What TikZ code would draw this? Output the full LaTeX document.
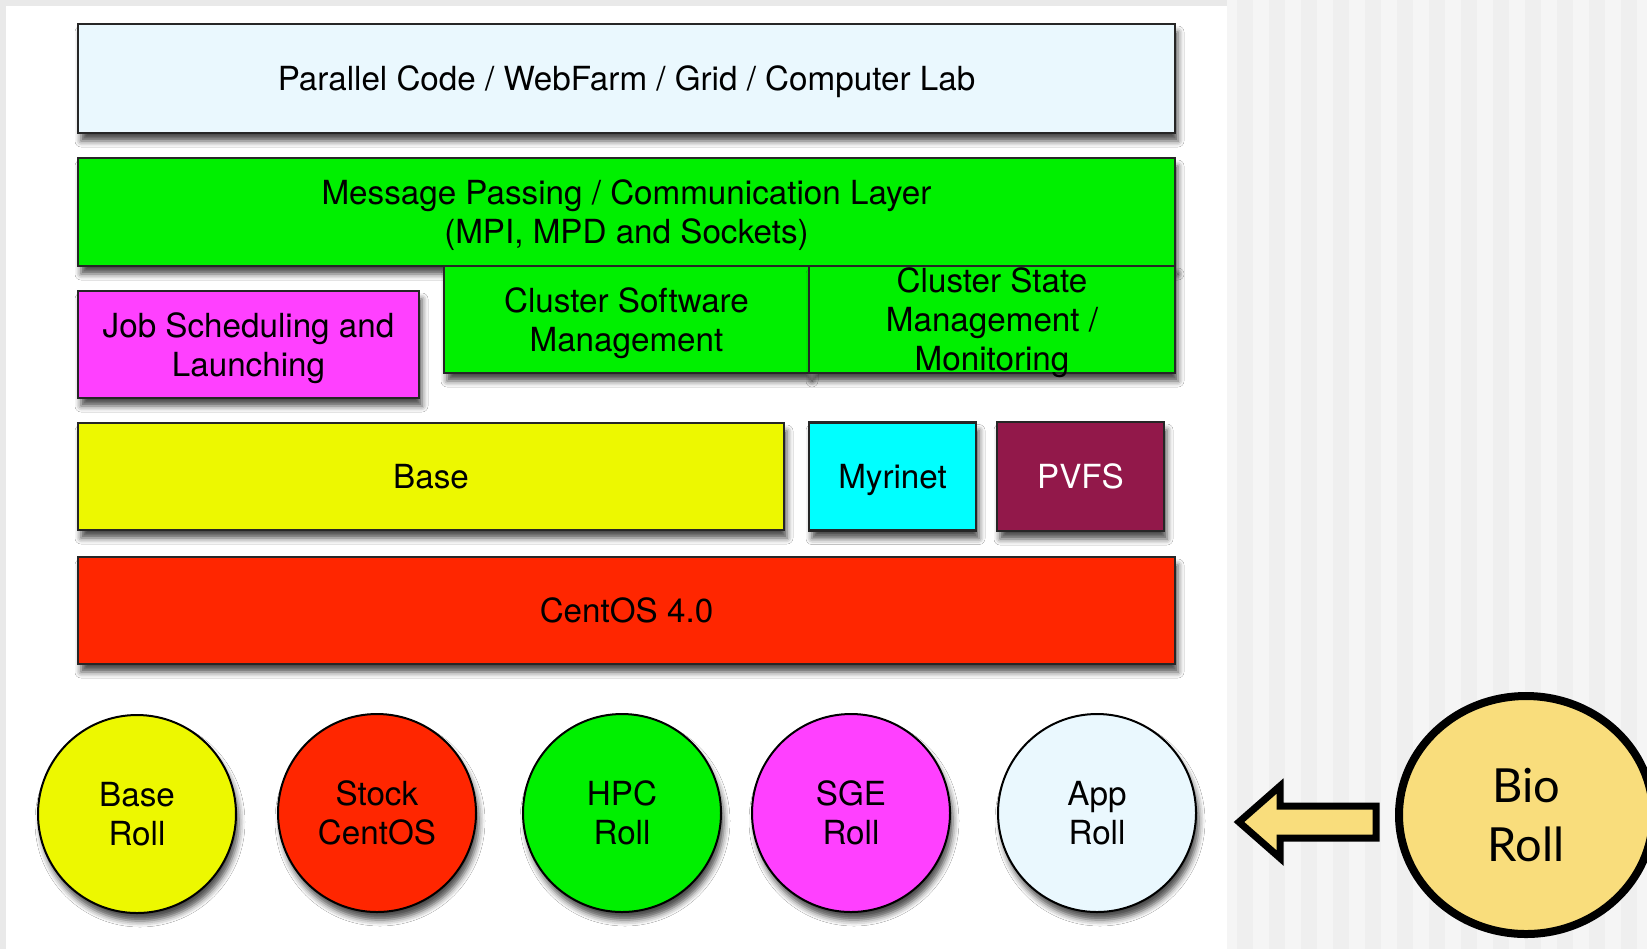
\documentclass[tikz,border=0pt]{standalone}
\usepackage{fontspec}
\setmainfont{TeX Gyre Heros}
\newfontfamily\rollfont{Lato}
\usetikzlibrary{positioning,shapes.geometric,shadows.blur}
\definecolor{skyLayer}{HTML}{EAF8FE}
\definecolor{grnLayer}{HTML}{00F000}
\definecolor{magLayer}{HTML}{FF40FF}
\definecolor{yelLayer}{HTML}{EDF800}
\definecolor{cyanLayer}{HTML}{00FFFF}
\definecolor{pvfsLayer}{HTML}{92184A}
\definecolor{redLayer}{HTML}{FF2600}
\definecolor{bioGold}{HTML}{F9DD7C}
\definecolor{paneGray}{HTML}{E9E9E9}
\definecolor{stripeLight}{HTML}{F5F5F5}
\definecolor{stripeDark}{HTML}{EFEFEF}
\newcommand{\layerfont}{\fontsize{16.6}{19.5}\selectfont}
\tikzset{
  softshadow/.style={blur shadow={shadow xshift=1.5pt, shadow yshift=-4pt, shadow blur radius=3pt, shadow opacity=70}},
  layer/.style={rectangle, draw=black!85, line width=1.3pt, outer sep=0pt, inner sep=2pt,
    align=center, font=\layerfont, text depth=0pt, softshadow},
  roll/.style={circle, draw=black, line width=1pt, minimum size=99pt, inner sep=0pt,
    align=center, font=\layerfont, text depth=0pt, softshadow},
  bioroll/.style={ellipse, draw=black, line width=4pt, minimum width=127pt, minimum height=119pt, inner sep=0pt,
    align=center, fill=bioGold, font=\rollfont\fontsize{23.5}{29.5}\selectfont}
}

\begin{document}
\begin{tikzpicture}[x=0.5pt,y=-0.5pt]
%% page background
\useasboundingbox (0,0) rectangle (1647,949);
\fill[paneGray] (0,0) rectangle (1647,949);
\fill[white] (6,6) rectangle (1227,949);
\fill[stripeLight] (1227,0) rectangle (1647,949);
\foreach \sx in {1237,1269,...,1640}
  \fill[stripeDark] (\sx,0) rectangle ++(16,949);
%the layers
\node [layer, fill=skyLayer, minimum width=548.5pt, minimum height=54.5pt] (parallelCode) at (626.5,78.5) {Parallel Code / WebFarm / Grid / Computer Lab};
\node [layer, fill=grnLayer, minimum width=548.5pt, minimum height=54pt] (msgPassing) at (626.5,212) {Message Passing / Communication Layer\\(MPI, MPD and Sockets)};
\node [layer, fill=magLayer, minimum width=170.5pt, minimum height=53.5pt] (jobSched) at (248.5,344.5) {Job Scheduling and\\Launching};
\node [layer, fill=grnLayer, minimum width=182.5pt, minimum height=53.5pt] (clusterSW) at (626.5,319.5) {Cluster Software\\Management};
\node [layer, fill=grnLayer, minimum width=183pt, minimum height=53.5pt, right=0pt of clusterSW,
  label={[align=center, font=\layerfont, text depth=0pt]center:Cluster State\\Management /\\Monitoring}] (clusterState) {};
\node [layer, fill=yelLayer, minimum width=353pt, minimum height=53.5pt] (baseLayer) at (431,476.5) {Base};
\node [layer, fill=cyanLayer, minimum width=83.5pt, minimum height=54pt, right=12.5pt of baseLayer] (myrinet) {Myrinet};
\node [layer, fill=pvfsLayer, text=white, minimum width=83.5pt, minimum height=54.5pt, right=10.5pt of myrinet] (pvfs) {PVFS};
\node [layer, fill=redLayer, minimum width=548.5pt, minimum height=53.5pt] (centos) at (626.5,610.5) {CentOS 4.0};
%the rolls
\node [roll, fill=yelLayer] (baseRoll) at (137,814) {Base\\Roll};
\node [roll, fill=redLayer] (stockCentos) at (377,813) {Stock\\CentOS};
\node [roll, fill=grnLayer] (hpcRoll) at (622,813) {HPC\\Roll};
\node [roll, fill=magLayer] (sgeRoll) at (851,813) {SGE\\Roll};
\node [roll, fill=skyLayer] (appRoll) at (1097,813) {App\\Roll};
\node [bioroll] (bioRoll) at (1526,815) {Bio\\Roll};
%the big arrow
\draw [line width=3.5pt, fill=bioGold, line join=miter]
  (1376,806) -- (1280,806) -- (1280,786) -- (1239,822) -- (1280,858) -- (1280,838) -- (1376,838) -- cycle;
\end{tikzpicture}
\end{document}
